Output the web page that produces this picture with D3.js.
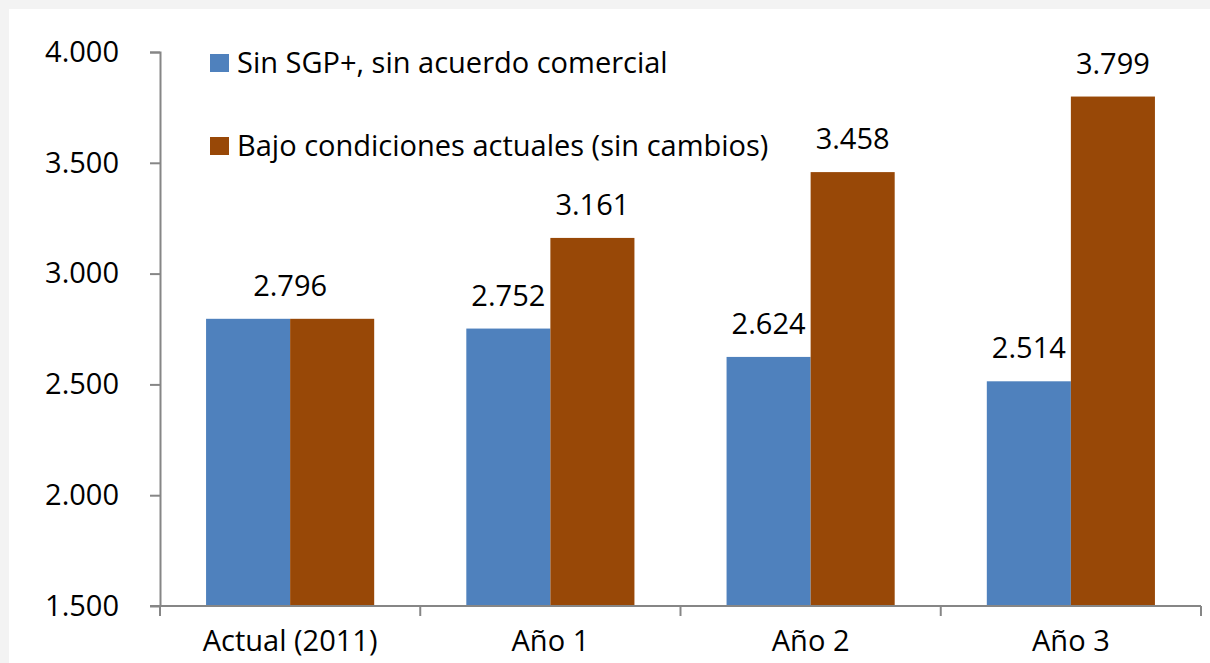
<!DOCTYPE html>
<html>
<head>
<meta charset="utf-8">
<script src="https://cdn.jsdelivr.net/npm/d3@7"></script>
<style>
  body { margin: 0; background: #f3f3f3; }
  text { font-family: "Open Sans", "Noto Sans", sans-serif; fill: #000; }
</style>
</head>
<body>
<div id="chart"></div>
<script>
// chart values
const categories = ['Actual (2011)', 'Año 1', 'Año 2', 'Año 3'];
const seriesNames = ['Sin SGP+, sin acuerdo comercial', 'Bajo condiciones actuales (sin cambios)'];
const sinSGP = [2796, 2752, 2624, 2514];
const actuales = [2796, 3161, 3458, 3799];
const yTicks = [1500, 2000, 2500, 3000, 3500, 4000];
const colors = ['#4f81bd', '#984807'];

const svgWidth = 1210;
const svgHeight = 663;
const margin = {top: 52, right: 10, bottom: 57, left: 160};
const width = 1201 - margin.left;
const height = 606 - margin.top;
const fontSize = 29;

const svg = d3.select('#chart')
            .append('svg')
            .attr('width', svgWidth)
            .attr('height', svgHeight)
            .style('display', 'block');

// white panel
svg.append('rect')
    .attr('x', 9).attr('y', 9)
    .attr('width', svgWidth - 9).attr('height', svgHeight - 9)
    .attr('fill', '#fff');

const chartGroup = svg.append('g')
                    .attr('transform', `translate(${margin.left}, ${margin.top})`);

const x0 = d3.scaleBand()
            .domain(categories)
            .range([0, width])
            .paddingInner(0.354)
            .paddingOuter(0.177);
const x1 = d3.scaleBand()
            .domain([0, 1])
            .range([0, x0.bandwidth()]);
const y = d3.scaleLinear()
            .domain([1500, 4000])
            .range([height, 0]);

const fmt = v => d3.format(',')(v).replace(',', '.');
const data = categories.map((c, i) => ({cat: c, vals: [sinSGP[i], actuales[i]]}));

// bars
const groups = chartGroup.selectAll('.grp').data(data).enter()
                .append('g')
                .attr('transform', d => `translate(${x0(d.cat)},0)`);
groups.selectAll('rect').data(d => d.vals).enter()
    .append('rect')
    .attr('x', (v, j) => x1(j))
    .attr('y', v => y(v))
    .attr('width', x1.bandwidth())
    .attr('height', v => height - y(v))
    .attr('fill', (v, j) => colors[j]);

// value labels
groups.each(function(d) {
    const g = d3.select(this);
    if (d.vals[0] === d.vals[1]) {
        g.append('text')
            .attr('x', x0.bandwidth() / 2)
            .attr('y', y(d.vals[0]) - 23)
            .attr('text-anchor', 'middle')
            .attr('font-size', fontSize)
            .text(fmt(d.vals[0]));
    } else {
        d.vals.forEach((v, j) => {
            g.append('text')
                .attr('x', x1(j) + x1.bandwidth() / 2)
                .attr('y', y(v) - 23)
                .attr('text-anchor', 'middle')
                .attr('font-size', fontSize)
                .text(fmt(v));
        });
    }
});

// axes
const axisColor = '#868686';
const leftAxis = d3.axisLeft(y)
                .tickValues(yTicks)
                .tickSize(10)
                .tickPadding(31)
                .tickFormat(fmt);
const yAxisG = chartGroup.append('g').call(leftAxis);
yAxisG.select('.domain').attr('stroke', axisColor).attr('stroke-width', 2)
    .attr('d', `M-10,0.5H0.5V${height}`);
yAxisG.selectAll('.tick line').attr('stroke', axisColor).attr('stroke-width', 2);
yAxisG.selectAll('.tick text').attr('font-size', fontSize).attr('font-family', null);

const xTickPos = d3.range(categories.length + 1).map(i => i * x0.step());
const xAxisG = chartGroup.append('g').attr('transform', `translate(0,${height})`);
xAxisG.append('line')
    .attr('x1', -10).attr('x2', width)
    .attr('stroke', axisColor).attr('stroke-width', 2);
xAxisG.selectAll('.xt').data(xTickPos).enter()
    .append('line')
    .attr('x1', d => d).attr('x2', d => d)
    .attr('y1', 0).attr('y2', 10)
    .attr('stroke', axisColor).attr('stroke-width', 2);
xAxisG.selectAll('.xl').data(categories).enter()
    .append('text')
    .attr('x', d => x0(d) + x0.bandwidth() / 2)
    .attr('y', 45)
    .attr('text-anchor', 'middle')
    .attr('font-size', fontSize)
    .text(d => d);

// legend
const legend = svg.append('g');
seriesNames.forEach((name, i) => {
    legend.append('rect')
        .attr('x', 210).attr('y', 54 + i * 83)
        .attr('width', 19).attr('height', 18)
        .attr('fill', colors[i]);
    legend.append('text')
        .attr('x', 237).attr('y', 73 + i * 83)
        .attr('font-size', fontSize)
        .text(name);
});
</script>
</body>
</html>
